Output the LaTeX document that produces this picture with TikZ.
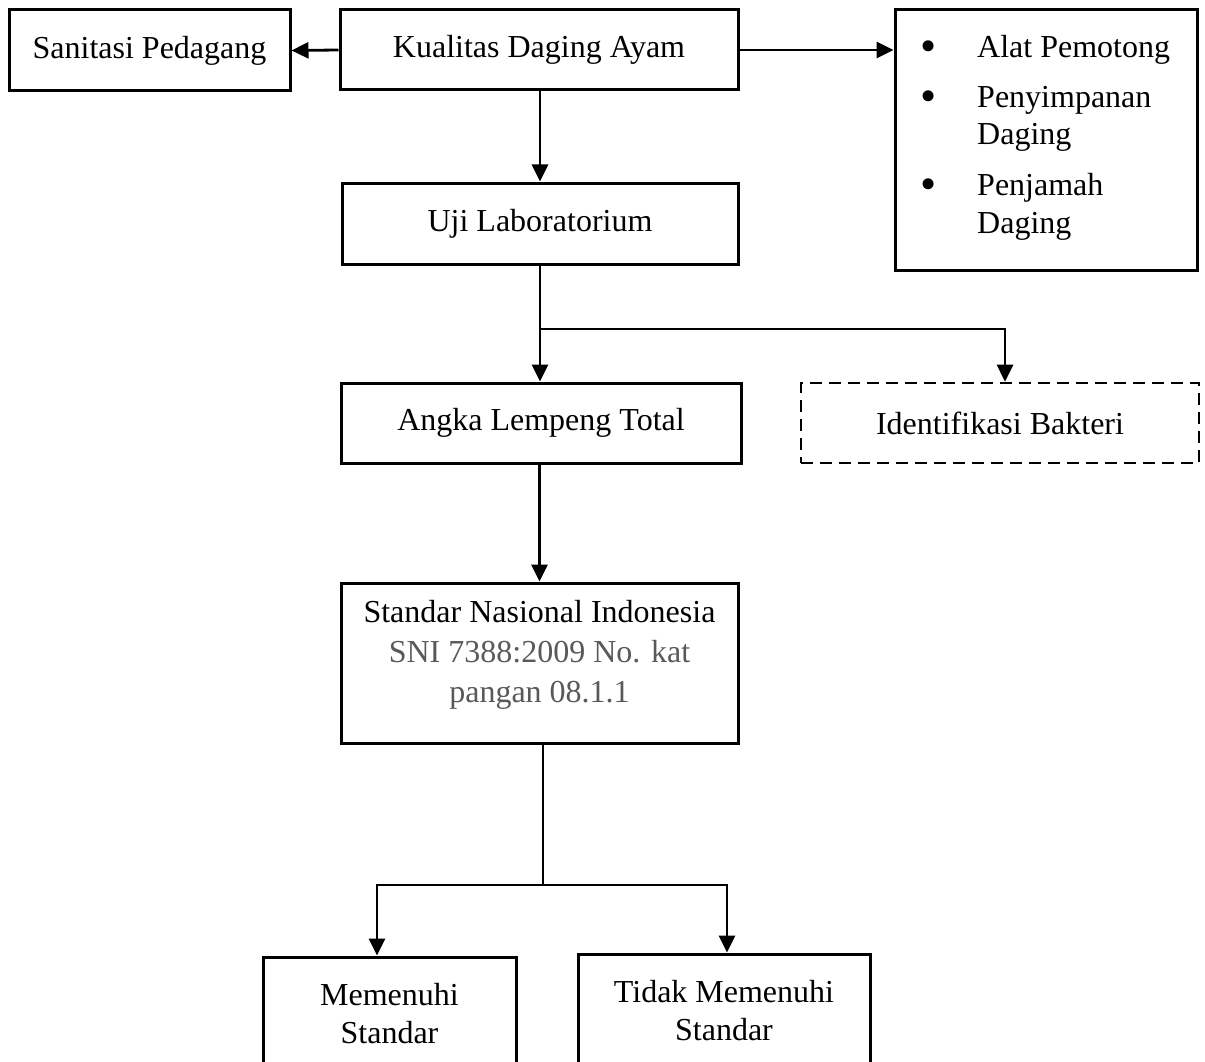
\documentclass[tikz,border=0pt]{standalone}
\usepackage{fontspec}
\setmainfont{Liberation Serif}
\usetikzlibrary{arrows.meta}
\definecolor{snigray}{HTML}{595959}
\begin{document}
\begin{tikzpicture}[x=1pt,y=-1pt,
  box/.style={draw, line width=3pt, rectangle, inner sep=0pt, align=center,
    font=\fontsize{32}{38}\selectfont},
  dbox/.style={box, line width=2.6pt, dash pattern=on 12pt off 7pt},
  conn/.style={line width=2.8pt},
  arr/.style={conn, -{Triangle[length=17pt,width=16pt]}},
  txt/.style={inner sep=0pt, font=\fontsize{32}{38}\selectfont},
  bul/.style={inner sep=0pt, font=\fontsize{46}{46}\selectfont}]
\clip (0,0) rectangle (1205,1062);
\fill[white] (0,0) rectangle (1205,1062);

\node[box, minimum width=281pt, minimum height=81pt] (san) at (149.5,50.5) {Sanitasi Pedagang};
\node[box, minimum width=398pt, minimum height=80pt] (kua) at (539,50) {Kualitas Daging Ayam};
\node[box, minimum width=302pt, minimum height=260pt] (rbox) at (1046,140) {};
\node[box, minimum width=396pt, minimum height=81pt] (uji) at (540,223.5) {Uji Laboratorium};
\node[box, minimum width=400pt, minimum height=80pt] (alt) at (541,423) {Angka Lempeng Total};
\node[dbox, minimum width=398pt, minimum height=80pt] (idb) at (1000,423) {Identifikasi Bakteri};
\node[box, minimum width=397pt, minimum height=160pt] (sni) at (539.5,663) {};
\node[txt, align=center, yshift=8pt] (snitxt) at (sni.center) {Standar Nasional Indonesia\\[2pt]
  \textcolor{snigray}{SNI 7388:2009 No. kat}\\[2pt]\textcolor{snigray}{pangan 08.1.1}};
\node[box, minimum width=253pt, minimum height=114pt] (mem) at (389.5,1014) {Memenuhi\\Standar};
\node[box, minimum width=292pt, minimum height=114pt] (tdk) at (724,1011) {Tidak Memenuhi\\Standar};

% bullet list
\node[bul, anchor=base] (b1) at (929,62) {•};
\node[txt, anchor=base west] (t1) at (977,58) {Alat Pemotong};
\node[bul, anchor=base] (b2) at (929,112) {•};
\node[txt, anchor=base west] (t2) at (977,108) {Penyimpanan};
\node[txt, anchor=base west] (t2b) at (977,145) {Daging};
\node[bul, anchor=base] (b3) at (929,199) {•};
\node[txt, anchor=base west] (t3) at (977,195) {Penjamah};
\node[txt, anchor=base west] (t3b) at (977,233) {Daging};

% connectors
\draw[arr] (kua.west) -- (san.east);
\draw[arr] (kua.east) -- (kua.east -| rbox.west);
\draw[arr] (kua.south -| uji.north) -- (uji.north);
\coordinate (s1) at (540,329);
\coordinate (s1r) at (1005,329);
\draw[conn] (uji.south) -- (s1);
\draw[arr] (s1) -- (s1 |- alt.north);
\draw[arr] (s1) -- (s1r) -- (s1r |- idb.north);
\draw[arr] (alt.south -| sni.north) -- (sni.north);
\coordinate (s2) at (543,885);
\coordinate (s2l) at (377,885);
\coordinate (s2r) at (727,885);
\draw[conn] (sni.south -| s2) -- (s2);
\draw[arr] (s2) -- (s2l) -- (s2l |- mem.north);
\draw[arr] (s2) -- (s2r) -- (s2r |- tdk.north);
\end{tikzpicture}
\end{document}
